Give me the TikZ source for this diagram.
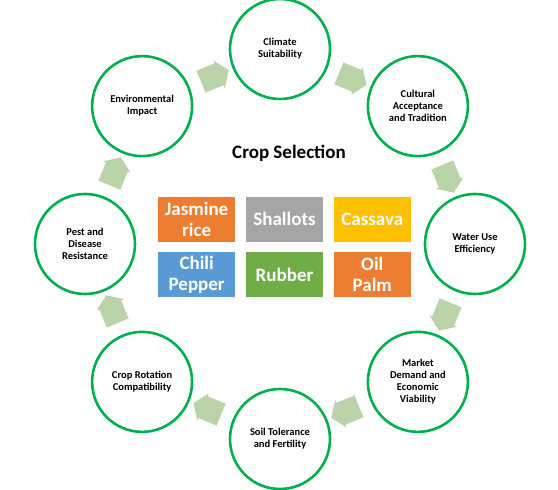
\documentclass[tikz,border=0pt]{standalone}
\usepackage{fontspec}
\setmainfont{Carlito}
\usepackage{xcolor}
\usepackage{tikz}
\usetikzlibrary{shapes,arrows,positioning,calc}
\definecolor{ringgreen}{RGB}{0,176,80}
\definecolor{flowgreen}{RGB}{186,211,168}
\definecolor{croporange}{RGB}{237,125,49}
\definecolor{cropgray}{RGB}{165,165,165}
\definecolor{cropyellow}{RGB}{255,192,0}
\definecolor{cropblue}{RGB}{91,155,213}
\definecolor{cropgreen}{RGB}{112,173,71}

\begin{document}
\begin{tikzpicture}[
    x=1pt, y=1pt,
    factor/.style={circle, draw=ringgreen, line width=2.6pt, fill=white, minimum size=100pt, inner sep=0pt, align=center, font=\fontsize{10.5}{12}\selectfont\bfseries},
    crop/.style={draw=white, line width=0.8pt, minimum width=78pt, minimum height=46pt, inner sep=2pt, align=center, text=white, font=\fontsize{19}{21}\selectfont\bfseries},
    flow/.style={single arrow, fill=flowgreen, minimum height=30pt, minimum width=30pt, single arrow head extend=3pt, single arrow tip angle=110, inner sep=0pt, sloped, allow upside down}
]
\useasboundingbox (-280,-246) rectangle (278,244);

% Selection factors
\node[factor] (climate) at (90:195) {Climate\\Suitability};
\node[factor] (cultural) at (45:195) {Cultural\\Acceptance\\and Tradition};
\node[factor] (water) at (0:195) {Water Use\\Efficiency};
\node[factor] (market) at (-45:195) {Market\\Demand and\\Economic\\Viability};
\node[factor] (soil) at (-90:195) {Soil Tolerance\\and Fertility};
\node[factor] (rotation) at (-135:195) {Crop Rotation\\Compatibility};
\node[factor] (pest) at (180:195) {Pest and\\Disease\\Resistance};
\node[factor] (environment) at (135:195) {Environmental\\Impact};

% Title
\node[font=\fontsize{19}{22}\selectfont\bfseries] (title) at (9,91) {Crop Selection};

% Crops
\node[crop, fill=cropgray] (shallots) at (4.5,25) {Shallots};
\node[crop, fill=croporange, left=9pt of shallots] (jasmine) {Jasmine\\rice};
\node[crop, fill=cropyellow, right=9pt of shallots] (cassava) {Cassava};
\node[crop, fill=cropgreen, below=9pt of shallots] (rubber) {Rubber};
\node[crop, fill=cropblue, left=9pt of rubber] (chili) {Chili\\Pepper};
\node[crop, fill=croporange, right=9pt of rubber] (oil_palm) {Oil\\Palm};

% Arrows
\path (climate) -- node[flow] {\rule{0pt}{22pt}} (cultural);
\path (cultural) -- node[flow] {\rule{0pt}{22pt}} (water);
\path (water) -- node[flow] {\rule{0pt}{22pt}} (market);
\path (market) -- node[flow] {\rule{0pt}{22pt}} (soil);
\path (soil) -- node[flow] {\rule{0pt}{22pt}} (rotation);
\path (rotation) -- node[flow] {\rule{0pt}{22pt}} (pest);
\path (pest) -- node[flow] {\rule{0pt}{22pt}} (environment);
\path (environment) -- node[flow] {\rule{0pt}{22pt}} (climate);

\end{tikzpicture}
\end{document}
